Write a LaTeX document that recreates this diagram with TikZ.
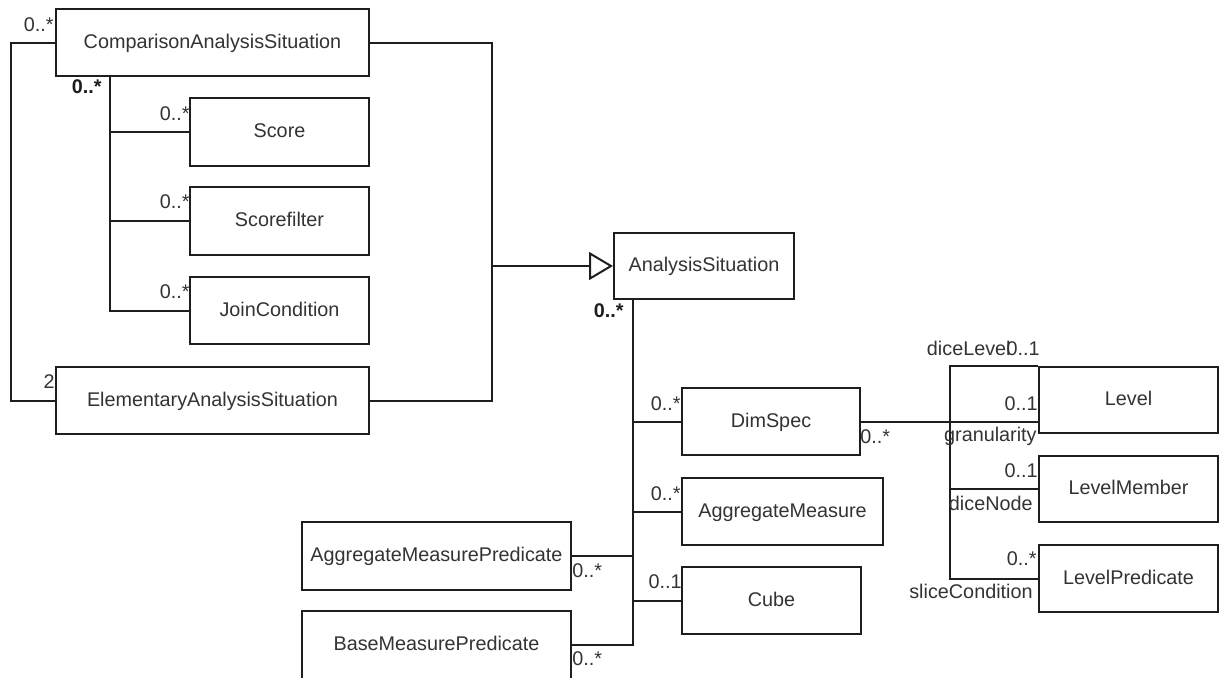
\documentclass[tikz,border=0pt]{standalone}
\usepackage{fontspec}
\setmainfont{Liberation Sans}
\usetikzlibrary{arrows.meta}
\definecolor{ink}{HTML}{1E1E1E}
\definecolor{txt}{HTML}{333333}
\begin{document}
\begin{tikzpicture}[x=0.5pt,y=-0.5pt,
  cls/.style={draw=ink, line width=1pt, fill=white, inner sep=0pt, text=txt,
    font=\fontsize{9.9}{12}\selectfont, text height=7pt, text depth=1.5pt},
  sz/.style 2 args={minimum width=#1*0.5pt, minimum height=#2*0.5pt},
  assoc/.style={draw=ink, line width=1pt},
  mult/.style={inner sep=0pt, text=txt, font=\fontsize{9.9}{12}\selectfont},
  multb/.style={inner sep=0pt, text=ink, font=\fontsize{9.9}{12}\selectfont\bfseries},
]
\clip (0,0) rectangle (1219,677);

% classes
\node[cls, sz={313}{67}] (cas)     at (212.5,42.5)  {ComparisonAnalysisSituation};
\node[cls, sz={179}{68}] (score)   at (279.5,132)   {Score};
\node[cls, sz={179}{68}] (sfilter) at (279.5,221)   {Scorefilter};
\node[cls, sz={179}{67}] (join)    at (279.5,310.5) {JoinCondition};
\node[cls, sz={313}{67}] (eas)     at (212.5,400.5) {ElementaryAnalysisSituation};
\node[cls, sz={180}{66}] (as)      at (704,266)     {AnalysisSituation};
\node[cls, sz={178}{67}] (dim)     at (771,421.5)   {DimSpec};
\node[cls, sz={201}{67}] (aggm)    at (782.5,511.5) {AggregateMeasure};
\node[cls, sz={179}{67}] (cube)    at (771.5,600.5) {Cube};
\node[cls, sz={269}{68}] (amp)     at (436.5,556)   {AggregateMeasurePredicate};
\node[cls, sz={269}{68}] (bmp)     at (436.5,645)   {BaseMeasurePredicate};
\node[cls, sz={179}{66}] (level)   at (1128.5,400)  {Level};
\node[cls, sz={179}{66}] (lmem)    at (1128.5,489)  {LevelMember};
\node[cls, sz={179}{67}] (lpred)   at (1128.5,578.5){LevelPredicate};

% routing columns
\coordinate (lx) at (11,0);
\coordinate (gx) at (492,266);
\coordinate (tx) at (110,0);
\coordinate (ax) at (633,0);
\coordinate (rx) at (950,0);

% comparison situation refers to two elementary situations
\draw[assoc] (cas.west) -- (cas.west -| lx) -- (eas.west -| lx) -- (eas.west);
% generalization
\draw[assoc] (cas.east) -| (gx) |- (eas.east);
\draw[assoc, -{Triangle[open, length=12pt, width=14pt]}] (gx) -- (as.west);

% comparison parts
\draw[assoc] (cas.south -| tx) |- (join.west);
\draw[assoc] (score.west) -- (score.west -| tx);
\draw[assoc] (sfilter.west) -- (sfilter.west -| tx);

% analysis situation parts
\draw[assoc] (as.south -| ax) |- (bmp.east);
\draw[assoc] (dim.west) -- (dim.west -| ax);
\draw[assoc] (aggm.west) -- (aggm.west -| ax);
\draw[assoc] (cube.west) -- (cube.west -| ax);
\draw[assoc] (amp.east) -- (amp.east -| ax);

% dimension specification
\draw[assoc] (dim.east) -- (dim.east -| level.west);
\draw[assoc] (level.north west) -| (lpred.west -| rx) -- (lpred.west);
\draw[assoc] (lmem.west) -- (lmem.west -| rx);

% multiplicities and role names
\node[mult, anchor=base east] (m1) at (54,31) {0..*};
\node[multb, anchor=base east] (m2) at (102,93) {0..*};
\node[mult, anchor=base east] (m3) at (190,120) {0..*};
\node[mult, anchor=base east] (m4) at (190,208) {0..*};
\node[mult, anchor=base east] (m5) at (190,298) {0..*};
\node[mult, anchor=base east] (m6) at (55,388) {2};
\node[multb, anchor=base east] (m7) at (624,317) {0..*};
\node[mult, anchor=base east] (m8) at (681,410) {0..*};
\node[mult, anchor=base west] (m9) at (860,443) {0..*};
\node[mult, anchor=base east] (m10) at (681,500) {0..*};
\node[mult, anchor=base east] (m11) at (682,588) {0..1};
\node[mult, anchor=base west] (m12) at (572,577) {0..*};
\node[mult, anchor=base west] (m13) at (572,665) {0..*};
\node[mult, anchor=base east] (r1) at (1011,355) {diceLevel};
\node[mult, anchor=base east] (m14) at (1040,355) {0..1};
\node[mult, anchor=base east] (m15) at (1038,410) {0..1};
\node[mult, anchor=base east] (r2) at (1037,441) {granularity};
\node[mult, anchor=base east] (m16) at (1038,477) {0..1};
\node[mult, anchor=base east] (r3) at (1033,510) {diceNode};
\node[mult, anchor=base east] (m17) at (1037,565) {0..*};
\node[mult, anchor=base east] (r4) at (1033,598) {sliceCondition};
\end{tikzpicture}
\end{document}
